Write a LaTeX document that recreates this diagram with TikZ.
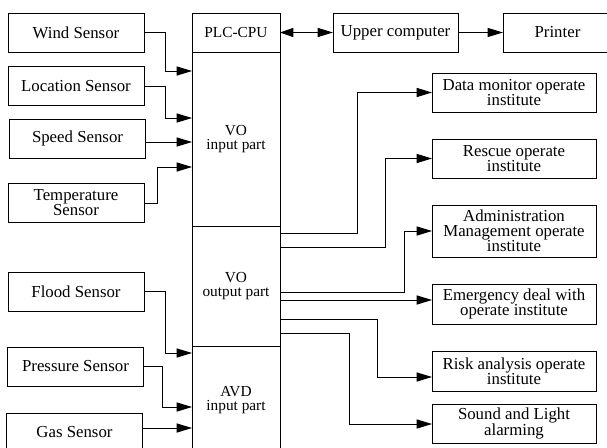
\documentclass[tikz,border=0pt]{standalone}
\usepackage{fontspec}
\setmainfont{Liberation Serif}
\usetikzlibrary{arrows.meta}

\begin{document}
\begin{tikzpicture}[x=0.75pt,y=-0.75pt,
  every node/.style={inner sep=0pt,outer sep=0pt},
  box/.style={draw=black,line width=0.7pt,fill=white,align=center,
    font=\fontsize{12.6}{11.2}\selectfont},
  sensor/.style={box,minimum width=102pt,minimum height=29.25pt},
  unit/.style={box,minimum width=123pt,minimum height=29.25pt},
  part/.style={box,anchor=north west,minimum width=66pt,
    font=\fontsize{11.5}{10.8}\selectfont},
  link/.style={draw=black,line width=0.7pt},
  arr/.style={link,-{Triangle[length=11.5pt,width=6.8pt]}},
  darr/.style={link,{Triangle[length=10pt,width=6.8pt]}-{Triangle[length=11.5pt,width=6.8pt]}}]

% page area
\fill[white] (0,0) rectangle (607,447);
\useasboundingbox (0,0) rectangle (607,447);

% sensors on the left
\node[sensor] (wind)  at (76,32.5)    {Wind Sensor};
\node[sensor] (loc)   at (76,86)      {Location Sensor};
\node[sensor] (speed) at (77.5,138.5) {Speed Sensor};
\node[sensor] (temp)  at (76,203)     {Temperature\\Sensor};
\node[sensor] (flood) at (76,291.5)   {Flood Sensor};
\node[sensor] (press) at (75.5,366.5) {Pressure Sensor};
\node[sensor] (gas)   at (74.5,432.5) {Gas Sensor};

% PLC column
\node[part,minimum height=29.25pt] (plc)   at (192,13)  {PLC-CPU};
\node[part,minimum height=130.5pt] (voin)  at (192,52)  {VO\\input part};
\node[part,minimum height=90pt]    (voout) at (192,226) {VO\\output part};
\node[part,minimum height=81pt]    (avd)   at (192,346) {AVD\\input part};

% top row
\node[box,minimum width=93.75pt,minimum height=29.25pt] (upper) at (395.5,32.5) {Upper computer};
\node[box,minimum width=81.75pt,minimum height=29.25pt] (printer) at (557.5,32.5) {Printer};

% operating institutes on the right
\node[unit] (data)   at (514,92.5)  {Data monitor operate\\institute};
\node[unit] (rescue) at (514,158.5) {Rescue operate\\institute};
\node[unit,minimum height=39pt] (admin) at (514,231) {Administration\\Management operate\\institute};
\node[unit,minimum height=30pt] (emerg) at (514,304) {Emergency deal with\\operate institute};
\node[unit,minimum height=30pt] (risk)  at (514,371) {Risk analysis operate\\institute};
\node[unit] (sound)  at (514,423.5) {Sound and Light\\alarming};

% sensor inputs
\draw[arr] (wind.east)  -- ++(21,0) |- (voin.west |- 0,71);
\draw[arr] (loc.east)   -- ++(21,0) |- (voin.west |- 0,118);
\draw[arr] (speed.east |- 0,142) -- (voin.west |- 0,142);
\draw[arr] (temp.east)  -- ++(13,0) |- (voin.west |- 0,167);
\draw[arr] (flood.east) -- ++(21,0) |- (avd.west |- 0,353);
\draw[arr] (press.east) -- ++(19,0) |- (avd.west |- 0,407);
\draw[arr] (gas.east |- 0,428) -- (avd.west |- 0,428);

% host link
\draw[darr] (plc.east) -- (upper.west);
\draw[arr] (upper.east) -- (printer.west);

% outputs
\draw[arr] (voout.east |- 0,233) -- (357,233) |- (data.west);
\draw[arr] (voout.east |- 0,247) -- (385,247) |- (rescue.west);
\draw[arr] (voout.east |- 0,292) -- (404,292) |- (admin.west);
\draw[arr] (voout.east |- 0,300) -- (emerg.west |- 0,300);
\draw[arr] (voout.east |- 0,319) -| (377,377) -- (risk.west |- 0,377);
\draw[arr] (voout.east |- 0,333) -| (349,424) -- (sound.west |- 0,424);
\end{tikzpicture}
\end{document}
